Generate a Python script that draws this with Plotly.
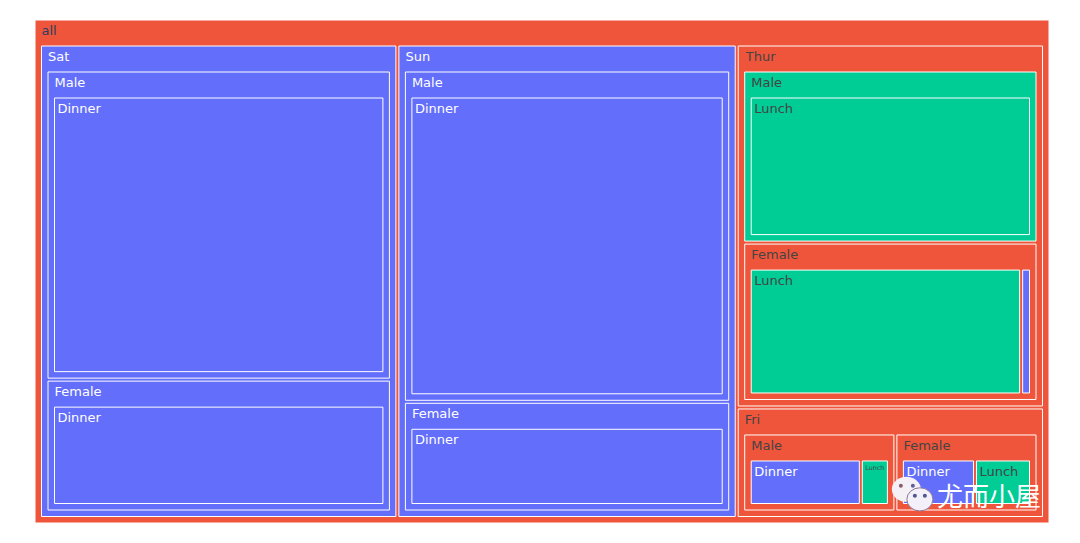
import plotly.graph_objects as go

ROOT = "all"
days = ["Sat", "Sun", "Thur", "Fri"]
day_colors = ["#636efa", "#636efa", "#EF553B", "#EF553B"]
sex_rows = [("Sat", "Male", "#636efa"), ("Sat", "Female", "#636efa"),
            ("Sun", "Male", "#636efa"), ("Sun", "Female", "#636efa"),
            ("Thur", "Male", "#00cc96"), ("Thur", "Female", "#EF553B"),
            ("Fri", "Male", "#EF553B"), ("Fri", "Female", "#EF553B")]
time_rows = [("Sat", "Male", "Dinner", 1205, "#636efa"), ("Sat", "Female", "Dinner", 514, "#636efa"),
             ("Sun", "Male", "Dinner", 1226, "#636efa"), ("Sun", "Female", "Dinner", 406, "#636efa"),
             ("Thur", "Male", "Lunch", 590, "#00cc96"), ("Thur", "Female", "Lunch", 524, "#00cc96"),
             ("Thur", "Female", "Dinner", 19, "#636efa"),
             ("Fri", "Male", "Dinner", 142.4, "#636efa"), ("Fri", "Male", "Lunch", 36, "#00cc96"),
             ("Fri", "Female", "Dinner", 94.3, "#636efa"), ("Fri", "Female", "Lunch", 72.3, "#00cc96")]

ids, labels, parents, values, colors = [ROOT], [ROOT], [""], [sum(r[3] for r in time_rows)], ["#EF553B"]
for d, c in zip(days, day_colors):
    ids.append(d); labels.append(d); parents.append(ROOT)
    values.append(sum(r[3] for r in time_rows if r[0] == d)); colors.append(c)
for d, s, c in sex_rows:
    ids.append(f"{d}/{s}"); labels.append(s); parents.append(d)
    values.append(sum(r[3] for r in time_rows if r[0] == d and r[1] == s)); colors.append(c)
for d, s, t, v, c in time_rows:
    ids.append(f"{d}/{s}/{t}"); labels.append(t); parents.append(f"{d}/{s}")
    values.append(v); colors.append(c)

fig = go.Figure(go.Treemap(ids=ids, labels=labels, parents=parents, values=values,
                           branchvalues="total", marker=dict(colors=colors),
                           pathbar=dict(visible=False), sort=True))
fig.update_layout(width=1080, height=543, margin=dict(l=27, r=39, t=12, b=28),
                  paper_bgcolor="white", font=dict(family="DejaVu Sans", size=13))
fig.add_annotation(text="尤而小屋", x=0.994, y=0.056, xref="paper", yref="paper", showarrow=False,
                   xanchor="right", yanchor="middle",
                   font=dict(family="Noto Sans CJK SC", size=26, color="white"))


def px_x(p):
    return (p - 35) / 1013


def px_y(p):
    return (521 - p) / 500


def blob(x0, x1, y0, y1, fill, line=None):
    fig.add_shape(type="circle", xref="paper", yref="paper", layer="above",
                  x0=px_x(x0), x1=px_x(x1), y0=px_y(y1), y1=px_y(y0),
                  fillcolor=fill, line=dict(color=line or fill, width=1 if line else 0))


blob(891, 920, 475, 500, "#f5f0f6")
blob(898, 902, 482, 486, "#8c5a6a")
blob(910, 914, 482, 486, "#5d5f9a")
blob(906, 932, 486, 509, "#f3f0fa", "#8a7a9a")
blob(912, 916, 492, 496, "#4f5690")
blob(922, 926, 492, 496, "#4f5690")
fig.write_html("out.html")
